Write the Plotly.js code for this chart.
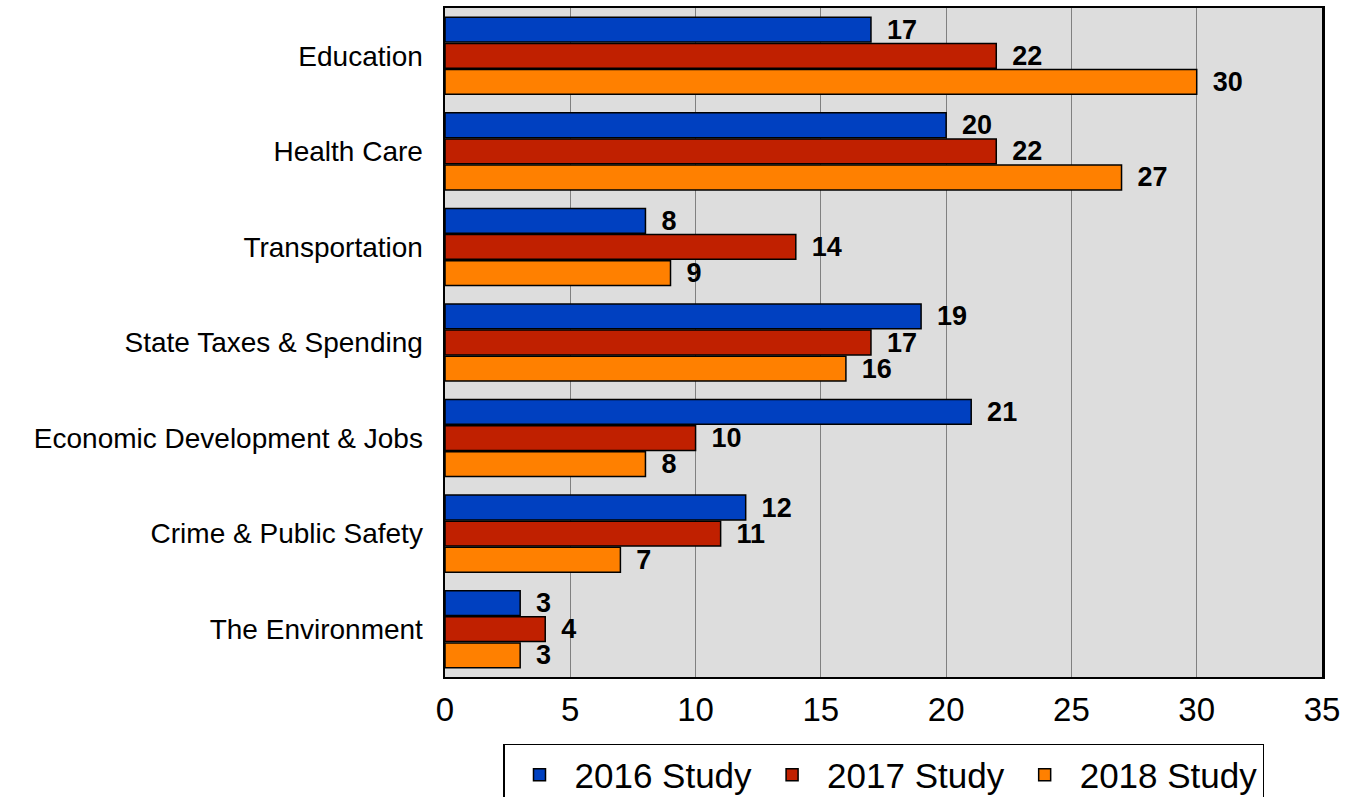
<!DOCTYPE html>
<html>
<head>
<meta charset="utf-8">
<script src="https://cdn.plot.ly/plotly-3.0.1.min.js"></script>
<style>html,body{margin:0;padding:0;background:#fff;}#chart{width:1346px;height:797px;}</style>
</head>
<body>
<div id="chart"></div>
<script>
var categories = ["Education", "Health Care", "Transportation", "State Taxes & Spending", "Economic Development & Jobs", "Crime & Public Safety", "The Environment"];
var study2016 = [17, 20, 8, 19, 21, 12, 3];
var study2017 = [22, 22, 14, 17, 10, 11, 4];
var study2018 = [30, 27, 9, 16, 8, 7, 3];
var seriesNames = ["2016 Study", "2017 Study", "2018 Study"];
var seriesColors = ["#0040C0", "#C02000", "#FF8000"];
var xTicks = [0, 5, 10, 15, 20, 25, 30, 35];

var allSeries = [study2016, study2017, study2018];
var traces = allSeries.map(function (vals, i) {
  return {
    type: 'bar',
    orientation: 'h',
    name: seriesNames[i],
    y: categories,
    x: vals,
    marker: {color: seriesColors[i], line: {color: '#000', width: 1.5}},
    texttemplate: '\u00a0\u2009<b>%{x}</b>',
    textposition: 'outside',
    constraintext: 'none',
    cliponaxis: false,
    textfont: {family: 'Liberation Sans, Arial, sans-serif', size: 27, color: '#000'},
    hoverinfo: 'x+name'
  };
});

var layout = {
  width: 1346,
  height: 797,
  margin: {l: 445, r: 24, t: 8, b: 120, autoexpand: false},
  paper_bgcolor: '#fff',
  plot_bgcolor: '#DDDDDD',
  barmode: 'group',
  bargap: 0.18,
  bargroupgap: 0.05,
  font: {family: 'Liberation Sans, Arial, sans-serif', color: '#000'},
  xaxis: {
    range: [0, 35],
    tickvals: xTicks,
    ticktext: xTicks.map(String),
    showgrid: true,
    gridcolor: '#808080',
    gridwidth: 1,
    zeroline: false,
    showline: true,
    linecolor: '#000',
    linewidth: 2,
    mirror: true,
    ticks: '',
    ticklabelstandoff: 2,
    tickfont: {size: 33, color: '#000'},
    automargin: false,
    fixedrange: true
  },
  yaxis: {
    autorange: 'reversed',
    showgrid: false,
    zeroline: false,
    showline: true,
    linecolor: '#000',
    linewidth: 2.5,
    mirror: true,
    ticks: '',
    ticklabelstandoff: 14,
    tickfont: {size: 28, color: '#000'},
    automargin: false,
    fixedrange: true
  },
  showlegend: true,
  legend: {
    orientation: 'h',
    x: 0.5,
    xanchor: 'center',
    y: -0.1,
    yanchor: 'top',
    bordercolor: '#000',
    borderwidth: 1.5,
    bgcolor: '#fff',
    font: {size: 35, color: '#000'},
    itemwidth: 60,
    tracegroupgap: 0
  }
};

Plotly.newPlot('chart', traces, layout, {displayModeBar: false, staticPlot: true});
</script>
</body>
</html>
